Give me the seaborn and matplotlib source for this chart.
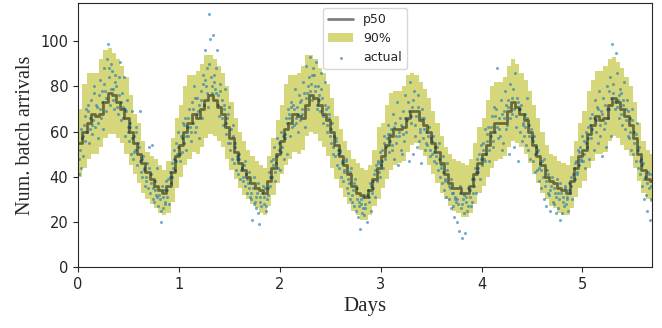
import numpy as np
import pandas as pd
import matplotlib
matplotlib.use("Agg")
import matplotlib.pyplot as plt
import seaborn as sns

# hourly forecast: median and 90% interval (one row per day)
p50 = [
    55, 60, 64, 68, 67, 68, 73, 77, 76, 73, 70, 66, 60, 55, 50, 46, 42, 39, 36, 34, 33, 36, 42, 49,
    54, 60, 64, 68, 66, 70, 74, 76, 74, 71, 68, 62, 57, 51, 46, 43, 40, 37, 35, 34, 33, 38, 44, 50,
    56, 61, 64, 68, 67, 66, 72, 76, 75, 72, 68, 65, 60, 54, 49, 45, 41, 36, 33, 32, 31, 34, 39, 44,
    49, 54, 58, 61, 61, 62, 66, 69, 69, 65, 63, 60, 55, 51, 46, 41, 37, 35, 35, 33, 33, 36, 41, 46,
    50, 54, 60, 64, 64, 64, 69, 73, 71, 68, 65, 60, 54, 49, 45, 40, 38, 37, 35, 34, 33, 38, 44, 49,
    52, 59, 63, 67, 65, 66, 72, 75, 73, 70, 67, 63, 57, 50, 43, 39, 38,
]
p95 = [
    70, 81, 86, 86, 86, 92, 96, 97, 95, 92, 89, 84, 76, 68, 64, 56, 51, 49, 48, 45, 43, 47, 57, 66,
    72, 80, 85, 85, 87, 90, 94, 94, 92, 89, 86, 80, 73, 66, 60, 56, 52, 49, 47, 45, 44, 49, 57, 65,
    72, 81, 85, 85, 86, 89, 94, 94, 92, 88, 86, 81, 75, 67, 61, 56, 52, 48, 46, 44, 43, 45, 52, 62,
    64, 72, 77, 78, 78, 80, 85, 86, 85, 82, 79, 75, 69, 64, 58, 53, 50, 48, 47, 46, 45, 48, 55, 62,
    66, 74, 80, 82, 82, 84, 89, 92, 90, 86, 83, 78, 72, 66, 60, 54, 50, 49, 47, 46, 45, 49, 56, 64,
    69, 78, 83, 87, 87, 89, 92, 93, 91, 88, 84, 80, 73, 64, 56, 52, 50,
]
p05 = [
    40, 44, 48, 50, 50, 53, 57, 59, 59, 57, 55, 50, 45, 41, 37, 33, 30, 28, 26, 24, 23, 24, 29, 35,
    40, 45, 48, 51, 50, 53, 57, 59, 58, 56, 53, 48, 43, 39, 35, 32, 30, 28, 26, 24, 23, 27, 32, 37,
    41, 45, 48, 51, 50, 52, 58, 60, 59, 56, 53, 49, 44, 39, 35, 31, 28, 25, 23, 21, 21, 23, 27, 30,
    35, 39, 43, 45, 46, 47, 51, 54, 55, 52, 49, 45, 41, 37, 33, 30, 27, 25, 24, 22, 22, 24, 28, 33,
    36, 40, 44, 47, 48, 49, 53, 56, 55, 53, 50, 46, 41, 37, 33, 30, 27, 26, 24, 23, 23, 26, 31, 35,
    38, 44, 47, 50, 50, 51, 56, 58, 57, 54, 52, 49, 44, 38, 33, 30, 29,
]

# observed arrivals, four readings per hour
actual = [
    # day 0
    41, 52, 44, 57, 49, 63, 56, 70, 60, 72, 55, 66, 74, 59, 65, 80, 62, 71, 57, 76, 83, 66, 73, 61,
    88, 78, 69, 92, 99, 84, 72, 90, 87, 79, 70, 82, 80, 68, 76, 91, 65, 77, 71, 84, 58, 69, 74, 62,
    56, 64, 50, 69, 48, 58, 52, 62, 45, 53, 69, 42, 40, 49, 44, 36, 38, 46, 35, 53, 33, 41, 54, 30,
    29, 38, 32, 44, 27, 30, 20, 36, 26, 34, 29, 38, 31, 39, 28, 42, 37, 46, 44, 52, 43, 55, 50, 60,
    # day 1
    47, 58, 51, 64, 55, 66, 52, 62, 58, 70, 62, 56, 73, 64, 80, 60, 62, 75, 69, 57, 78, 66, 85, 72,
    96, 80, 88, 71, 112, 101, 84, 77, 103, 82, 79, 88, 96, 76, 67, 81, 74, 63, 70, 79, 59, 66, 55, 71,
    52, 61, 48, 58, 46, 55, 43, 49, 41, 50, 39, 44, 38, 45, 36, 41, 33, 37, 42, 31, 30, 21, 35, 28,
    29, 26, 33, 24, 19, 31, 27, 36, 28, 35, 25, 30, 32, 42, 36, 47, 40, 48, 53, 38, 46, 57, 44, 52,
    # day 2
    43, 60, 53, 48, 57, 66, 50, 70, 68, 58, 73, 62, 72, 63, 79, 66, 71, 60, 76, 65, 74, 68, 82, 62,
    89, 77, 70, 84, 93, 81, 74, 88, 85, 78, 91, 72, 80, 76, 69, 86, 75, 64, 82, 70, 60, 71, 66, 58,
    55, 64, 50, 58, 49, 56, 45, 52, 44, 52, 40, 47, 38, 42, 47, 35, 33, 37, 30, 44, 29, 34, 27, 39,
    25, 30, 22, 27, 17, 28, 24, 31, 23, 26, 20, 34, 29, 37, 25, 33, 35, 41, 31, 45, 38, 47, 42, 51,
    # day 3
    45, 52, 44, 58, 48, 57, 63, 51, 56, 61, 52, 68, 48, 64, 55, 73, 45, 58, 66, 52, 50, 69, 56, 76,
    60, 73, 47, 82, 64, 71, 50, 78, 58, 67, 53, 76, 56, 61, 46, 70, 57, 66, 52, 60, 54, 62, 49, 57,
    50, 58, 47, 53, 46, 53, 43, 48, 40, 44, 37, 49, 34, 38, 31, 43, 30, 35, 26, 33, 27, 22, 31, 29,
    20, 28, 16, 33, 26, 13, 30, 24, 15, 29, 25, 35, 31, 27, 39, 33, 36, 44, 33, 48, 42, 50, 39, 54,
    # day 4
    45, 55, 48, 61, 50, 59, 62, 47, 58, 67, 53, 71, 60, 70, 88, 57, 66, 58, 74, 52, 55, 69, 78, 61,
    63, 74, 50, 81, 68, 79, 53, 86, 62, 75, 47, 70, 60, 72, 56, 64, 58, 68, 54, 75, 52, 63, 48, 57,
    47, 58, 42, 53, 43, 52, 38, 46, 35, 47, 40, 30, 36, 27, 43, 33, 32, 25, 36, 29, 28, 33, 24, 39,
    26, 30, 21, 33, 24, 29, 27, 36, 28, 31, 25, 37, 33, 40, 30, 44, 39, 47, 42, 52, 45, 53, 48, 58,
    # day 5
    47, 56, 44, 60, 53, 62, 48, 66, 57, 68, 52, 74, 60, 71, 55, 78, 58, 69, 49, 75, 61, 72, 53, 80,
    66, 78, 84, 58, 99, 81, 70, 95, 86, 74, 66, 79, 77, 63, 72, 82, 61, 70, 74, 58, 57, 66, 52, 70,
    50, 60, 47, 64, 44, 53, 41, 48, 36, 46, 30, 40, 32, 25, 42, 35, 21, 30, 41, 27,
]

# second sensor, two readings per hour
actual_b = [
    # day 0
    48, 61, 58, 67, 69, 61, 63, 77, 72, 64, 70, 78, 81, 75, 88, 79, 74, 85, 71, 84, 73, 66, 70, 60,
    62, 57, 51, 60, 55, 47, 48, 43, 40, 44, 37, 35, 34, 31, 32, 25, 31, 28, 34, 40, 40, 48, 47, 53,
    # day 1
    50, 57, 63, 58, 66, 60, 70, 75, 68, 72, 74, 81, 83, 77, 90, 80, 85, 77, 72, 78, 66, 72, 64, 68,
    55, 63, 53, 48, 48, 43, 40, 47, 39, 35, 33, 40, 31, 37, 29, 33, 31, 27, 35, 40, 45, 42, 49, 55,
    # day 2
    51, 58, 59, 64, 66, 71, 70, 64, 68, 73, 70, 77, 75, 80, 78, 85, 80, 70, 74, 79, 67, 72, 63, 68,
    61, 53, 57, 50, 51, 46, 43, 48, 39, 42, 32, 37, 35, 29, 30, 26, 28, 32, 31, 36, 38, 43, 46, 40,
    # day 3
    47, 55, 53, 59, 59, 54, 62, 58, 60, 63, 59, 66, 65, 69, 67, 74, 63, 71, 60, 66, 61, 55, 58, 52,
    56, 51, 49, 55, 45, 42, 39, 46, 36, 39, 33, 30, 30, 36, 28, 32, 31, 27, 34, 29, 39, 42, 44, 48,
    # day 4
    52, 47, 56, 52, 62, 56, 67, 62, 61, 68, 66, 72, 71, 66, 75, 70, 67, 73, 70, 63, 62, 66, 58, 61,
    56, 50, 51, 44, 43, 48, 38, 41, 34, 40, 35, 31, 33, 37, 31, 35, 30, 34, 36, 41, 46, 41, 51, 47,
    # day 5
    50, 55, 57, 63, 61, 66, 65, 70, 63, 68, 64, 70, 70, 75, 77, 73, 71, 76, 68, 74, 65, 69, 60, 65,
    55, 59, 52, 47, 45, 39, 37, 41, 36, 33,
]

hours_per_day = 24

n = len(p50)
t_edges = np.arange(n + 1) / hours_per_day
p50_s = np.append(p50, p50[-1])
p95_s = np.append(p95, p95[-1])
p05_s = np.append(p05, p05[-1])

obs = pd.concat([
    pd.DataFrame({"days": (np.arange(len(actual)) + 0.5) / (hours_per_day * 4),
                  "arrivals": actual}),
    pd.DataFrame({"days": (np.arange(len(actual_b)) + 0.5) / (hours_per_day * 2),
                  "arrivals": actual_b}),
]).sort_values("days")

sns.set_style("ticks")
plt.rcParams["font.family"] = ["DejaVu Sans"]

fig, ax = plt.subplots(figsize=(6.62, 3.28), dpi=100)
fig.subplots_adjust(left=0.118, right=0.985, top=0.991, bottom=0.186)

band = ax.fill_between(t_edges, p05_s, p95_s, step="post", color="#bcbd22",
                       alpha=0.6, linewidth=0, label="90%")
line, = ax.step(t_edges, p50_s, where="post", color="k", alpha=0.5,
                linewidth=2, label="p50")
sns.scatterplot(data=obs, x="days", y="arrivals", ax=ax, color="tab:blue",
                s=5, alpha=0.6, linewidth=0, label="actual", legend=False)
pts = ax.collections[-1]

ax.set_xlim(0, 5.69)
ax.set_ylim(0, 117)
ax.set_xticks([0, 1, 2, 3, 4, 5])
ax.set_yticks([0, 20, 40, 60, 80, 100])
ax.tick_params(labelsize=10.5)
for side in ["top", "right"]:
    ax.spines[side].set_visible(True)

serif = ["Liberation Serif", "DejaVu Serif"]
ax.set_xlabel("Days", fontsize=15, family=serif)
ax.set_ylabel("Num. batch arrivals", fontsize=14.5, family=serif)

ax.legend([line, band, pts], ["p50", "90%", "actual"], loc="upper center",
          fontsize=9, markerscale=1.0, borderaxespad=0.4)

plt.savefig("out.png", dpi=100)
plt.close()
